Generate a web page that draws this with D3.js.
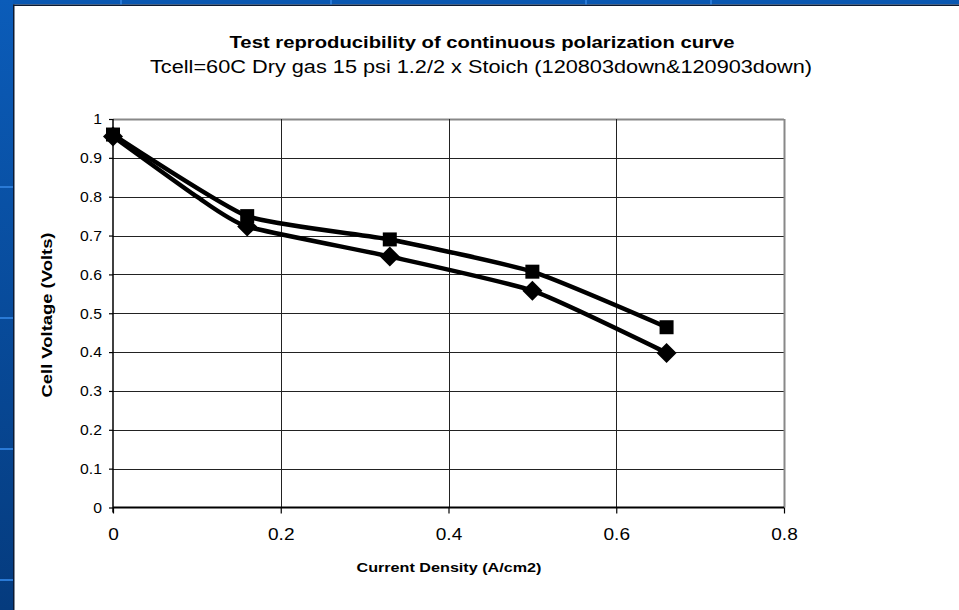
<!DOCTYPE html>
<html>
<head>
<meta charset="utf-8">
<script src="https://cdn.jsdelivr.net/npm/d3@7"></script>
<style>
  html, body { margin: 0; padding: 0; background: #ffffff; }
  svg { display: block; }
  text { font-family: Arial, "Liberation Sans", sans-serif; fill: #000; }
</style>
</head>
<body>
<svg id="chart" width="959" height="610"></svg>
<script>
// ---- data ----
const titleText = "Test reproducibility of continuous polarization curve";
const subtitleText = "Tcell=60C Dry gas 15 psi 1.2/2 x Stoich (120803down&120903down)";
const xTitle = "Current Density (A/cm2)";
const yTitle = "Cell Voltage (Volts)";

const currentDensity = [0, 0.16, 0.33, 0.5, 0.66];
const voltageSquare  = [0.96, 0.75, 0.69, 0.607, 0.464];   // 120803down
const voltageDiamond = [0.955, 0.723, 0.646, 0.558, 0.398]; // 120903down
// extra unmarked point of the continuous curve (diamond run)
const diamondExtraX = [0.1];
const diamondExtraY = [0.80];

const xTicks = [0, 0.2, 0.4, 0.6, 0.8];
const yTicks = [0, 0.1, 0.2, 0.3, 0.4, 0.5, 0.6, 0.7, 0.8, 0.9, 1];

// ---- drawing ----
const svg = d3.select("#chart");
const W = 959, H = 610;
const FONT = "Arial, 'Liberation Sans', sans-serif";

// slide background frame
const defs = svg.append("defs");
const grad = defs.append("linearGradient").attr("id", "leftBand")
  .attr("x1", 0).attr("y1", 0).attr("x2", 0).attr("y2", 1);
grad.append("stop").attr("offset", "0%").attr("stop-color", "#0b5cb9");
grad.append("stop").attr("offset", "100%").attr("stop-color", "#053b7e");

svg.append("rect").attr("x", 0).attr("y", 0).attr("width", W).attr("height", H).attr("fill", "#ffffff");
svg.append("rect").attr("x", 0).attr("y", 0).attr("width", W).attr("height", 4.5).attr("fill", "#0a58b2");
svg.append("rect").attr("x", 0).attr("y", 4.5).attr("width", W).attr("height", 1.5).attr("fill", "#0b1a33");
svg.append("rect").attr("x", 0).attr("y", 0).attr("width", 13).attr("height", H).attr("fill", "url(#leftBand)");
svg.append("rect").attr("x", 13).attr("y", 4.5).attr("width", 1.5).attr("height", H).attr("fill", "#0b1a33");
[186, 317, 448, 579].forEach(yy => {
  svg.append("rect").attr("x", 0).attr("y", yy).attr("width", 13).attr("height", 2).attr("fill", "#2a7ad6");
});
[120, 330, 585, 710].forEach(xx => {
  svg.append("rect").attr("x", xx).attr("y", 0).attr("width", 2).attr("height", 4.5).attr("fill", "#2a7ad6");
});

const x = d3.scaleLinear().domain([0, 0.8]).range([113, 784]);
const y = d3.scaleLinear().domain([0, 1]).range([507.5, 119]);

const fmt = d => d === 0 ? "0" : (d === 1 ? "1" : String(+d.toFixed(1)));

function stretch(sel, factor) {
  sel.each(function () {
    const w = this.getComputedTextLength();
    d3.select(this).attr("textLength", w * factor).attr("lengthAdjust", "spacingAndGlyphs");
  });
}
function fitTo(sel, len) {
  sel.attr("textLength", len).attr("lengthAdjust", "spacingAndGlyphs");
}

// gridlines
const grid = svg.append("g");
grid.selectAll("line.h").data(yTicks.filter(d => d > 0)).join("line")
  .attr("x1", x(0)).attr("x2", x(0.8))
  .attr("y1", d => Math.round(y(d)) + 0.5).attr("y2", d => Math.round(y(d)) + 0.5)
  .attr("stroke", d => d === 1 ? "#888" : "#222").attr("stroke-width", d => d === 1 ? 2 : 1);
grid.selectAll("line.v").data(xTicks.filter(d => d > 0)).join("line")
  .attr("x1", d => Math.round(x(d)) + 0.5).attr("x2", d => Math.round(x(d)) + 0.5)
  .attr("y1", y(1)).attr("y2", y(0))
  .attr("stroke", d => d === 0.8 ? "#888" : "#222").attr("stroke-width", d => d === 0.8 ? 2 : 1);

// axes
const yAxis = svg.append("g").attr("transform", `translate(${x(0)},0)`)
  .call(d3.axisLeft(y).tickValues(yTicks).tickFormat(fmt).tickSize(4).tickPadding(7));
yAxis.attr("font-size", null).attr("font-family", null);
yAxis.select(".domain").attr("stroke", "#000").attr("stroke-width", 1.5).attr("d", `M0,${y(1)}V${y(0) + 5}`);
yAxis.selectAll(".tick line").attr("stroke", "#000").attr("stroke-width", 1.2);
yAxis.selectAll(".tick text").style("font-size", "15px").style("font-family", FONT).attr("fill", "#000")
  .call(stretch, 1.05);

const xAxis = svg.append("g").attr("transform", `translate(0,${y(0)})`)
  .call(d3.axisBottom(x).tickValues(xTicks).tickFormat(fmt).tickSize(6).tickPadding(14));
xAxis.attr("font-size", null).attr("font-family", null);
xAxis.select(".domain").attr("stroke", "#000").attr("stroke-width", 2).attr("d", `M${x(0)},0H${x(0.8)}`);
xAxis.selectAll(".tick line").attr("stroke", "#000").attr("stroke-width", 1.2);
xAxis.selectAll(".tick text").style("font-size", "17px").style("font-family", FONT).attr("fill", "#000")
  .call(stretch, 1.12);

// titles
svg.append("text").attr("x", 482).attr("y", 48).attr("text-anchor", "middle")
  .style("font-size", "17px").style("font-weight", "bold").text(titleText).call(fitTo, 505);
svg.append("text").attr("x", 481).attr("y", 73).attr("text-anchor", "middle")
  .style("font-size", "17.5px").text(subtitleText).call(fitTo, 662);
svg.append("text").attr("x", 449).attr("y", 572).attr("text-anchor", "middle")
  .style("font-size", "13.5px").style("font-weight", "bold").text(xTitle).call(fitTo, 185);
svg.append("text").attr("transform", `translate(52,315) rotate(-90)`).attr("text-anchor", "middle")
  .style("font-size", "14px").style("font-weight", "bold").text(yTitle).call(fitTo, 165);

// lines
const line = d3.line().x(d => x(d[0])).y(d => y(d[1])).curve(d3.curveCardinal.tension(0.5));
const sqPts = currentDensity.map((c, i) => [c, voltageSquare[i]]);
const dmPts = currentDensity.map((c, i) => [c, voltageDiamond[i]])
  .concat(diamondExtraX.map((c, i) => [c, diamondExtraY[i]]))
  .sort((a, b) => a[0] - b[0]);

svg.append("path").attr("d", line(dmPts)).attr("fill", "none").attr("stroke", "#000")
  .attr("stroke-width", 4.5).attr("stroke-linejoin", "round");
svg.append("path").attr("d", line(sqPts)).attr("fill", "none").attr("stroke", "#000")
  .attr("stroke-width", 4.5).attr("stroke-linejoin", "round");

// markers
svg.selectAll("path.dm").data(currentDensity.map((c, i) => [c, voltageDiamond[i]])).join("path")
  .attr("class", "dm")
  .attr("d", d3.symbol().type(d3.symbolSquare).size(200)())
  .attr("transform", d => `translate(${x(d[0])},${y(d[1])}) rotate(45)`)
  .attr("fill", "#000");
svg.selectAll("rect.sq").data(currentDensity.map((c, i) => [c, voltageSquare[i]])).join("rect")
  .attr("class", "sq")
  .attr("x", d => x(d[0]) - 7).attr("y", d => y(d[1]) - 7)
  .attr("width", 14).attr("height", 14).attr("fill", "#000");
</script>
</body>
</html>
